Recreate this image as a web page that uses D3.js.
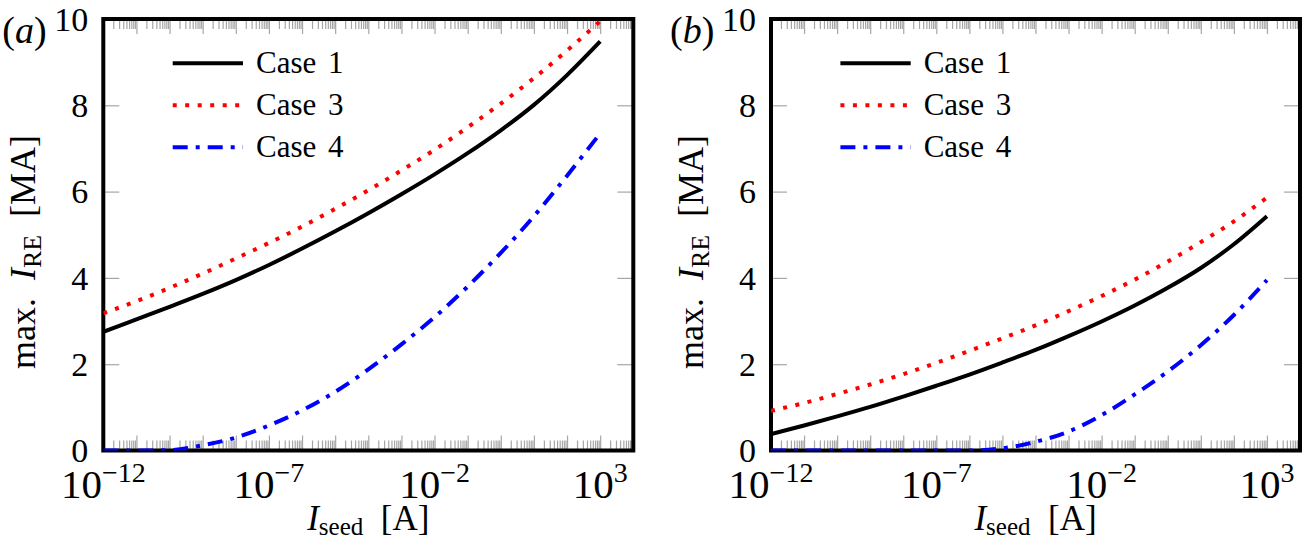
<!DOCTYPE html>
<html>
<head>
<meta charset="utf-8">
<script src="https://cdn.jsdelivr.net/npm/d3@7"></script>
<style>
  body { margin: 0; background: #fff; }
  svg text { font-family: "Liberation Serif", "Times New Roman", serif !important; fill: #000; }
</style>
</head>
<body>
<svg id="chart" width="1304" height="539" font-family="Liberation Serif, serif"></svg>
<script>
// data (seed current in A, max runaway current in MA)
var seed = [1e-12, 1e-11, 1e-10, 1e-9, 1e-8, 1e-7, 1e-6, 1e-5, 1e-4, 1e-3, 1e-2, 1e-1, 1e0, 1e1, 1e2, 1e3];

var case1A = [2.75, 3.04, 3.33, 3.63, 3.95, 4.30, 4.68, 5.08, 5.50, 5.94, 6.40, 6.89, 7.42, 8.01, 8.70, 9.48];
var case3A = [3.18, 3.46, 3.77, 4.10, 4.45, 4.81, 5.19, 5.60, 6.03, 6.49, 6.97, 7.49, 8.04, 8.63, 9.27, 9.95];
var case4A = [0.00, 0.00, 0.01, 0.12, 0.30, 0.58, 0.93, 1.36, 1.88, 2.46, 3.09, 3.80, 4.58, 5.43, 6.37, 7.35];

var case1B = [0.38, 0.58, 0.79, 1.01, 1.25, 1.50, 1.76, 2.04, 2.33, 2.65, 2.99, 3.36, 3.77, 4.23, 4.78, 5.43];
var case3B = [0.92, 1.10, 1.31, 1.53, 1.77, 2.03, 2.31, 2.60, 2.90, 3.23, 3.58, 3.96, 4.38, 4.83, 5.31, 5.86];
var case4B = [0.00, 0.00, 0.00, 0.00, 0.00, 0.00, 0.00, 0.05, 0.20, 0.44, 0.82, 1.30, 1.83, 2.44, 3.14, 3.95];

var caseNames = ["Case 1", "Case 3", "Case 4"];
var yTicks = [0, 2, 4, 6, 8, 10];
var xLabelValues = [1e-12, 1e-7, 1e-2, 1e3];
var xLabelExps = ["\u221212", "\u22127", "\u22122", "3"];
var panelLabels = ["a", "b"];

var svg = d3.select("#chart");
var top_ = 19, bottom = 450.5;
var y = d3.scaleLinear().domain([0, 10]).range([bottom, top_]);

var styles = [
  {color: "#000000", dash: null},
  {color: "#ff0000", dash: "4 8.5"},
  {color: "#0000ff", dash: "15 8 4 8"}
];

// log minor / major tick positions
var minorTicks = [], majorTicks = [];
for (var k = -12; k <= 3; k++) {
  if (k > -12) majorTicks.push(Math.pow(10, k));
  for (var m = 2; m <= 9; m++) minorTicks.push(m * Math.pow(10, k));
}

var panels = [
  {x0: 103.3, x1: 633.3, data: [case1A, case3A, case4A]},
  {x0: 771, x1: 1300, data: [case1B, case3B, case4B]}
];

panels.forEach(function(p, i) {
  var x = d3.scaleLog().domain([1e-12, 1e4]).range([p.x0, p.x1]);
  var g = svg.append("g");

  function tickAxis(axis, ty) {
    var a = g.append("g").attr("transform", "translate(0," + ty + ")").call(axis);
    a.select(".domain").remove();
    a.selectAll("line").attr("stroke", "#a6a6a6").attr("stroke-width", 1.2);
    return a;
  }

  // x ticks, pointing inward top and bottom
  tickAxis(d3.axisBottom(x).tickValues(minorTicks).tickSize(-10).tickFormat(""), bottom);
  tickAxis(d3.axisBottom(x).tickValues(majorTicks).tickSize(-15).tickFormat(""), bottom);
  tickAxis(d3.axisTop(x).tickValues(minorTicks).tickSize(-10).tickFormat(""), top_);
  tickAxis(d3.axisTop(x).tickValues(majorTicks).tickSize(-15).tickFormat(""), top_);

  // y ticks, left with labels and right
  var yl = g.append("g").attr("transform", "translate(" + p.x0 + ",0)")
    .call(d3.axisLeft(y).tickValues(yTicks).tickSize(-16).tickPadding(15).tickFormat(d3.format("d")));
  yl.select(".domain").remove();
  yl.attr("font-family", null).attr("font-size", null);
  yl.selectAll("line").attr("stroke", "#a6a6a6").attr("stroke-width", 1.2);
  yl.selectAll("text").attr("font-size", 34).attr("fill", "#000").attr("dy", "0.33em");
  var yr = g.append("g").attr("transform", "translate(" + p.x1 + ",0)")
    .call(d3.axisRight(y).tickValues(yTicks).tickSize(-16).tickFormat(""));
  yr.select(".domain").remove();
  yr.selectAll("line").attr("stroke", "#a6a6a6").attr("stroke-width", 1.2);

  // x tick labels 10^n
  xLabelValues.forEach(function(v, j) {
    var t = g.append("text")
      .attr("x", x(v)).attr("y", 498)
      .attr("text-anchor", "middle")
      .attr("font-size", 41);
    t.append("tspan").text("10");
    t.append("tspan").attr("font-size", 28).attr("dy", -16).text(xLabelExps[j]);
  });

  // frame
  g.append("rect")
    .attr("x", p.x0).attr("y", top_)
    .attr("width", p.x1 - p.x0).attr("height", bottom - top_)
    .attr("fill", "none").attr("stroke", "#000").attr("stroke-width", 4);

  // lines clipped to the plot area
  svg.append("clipPath").attr("id", "clip" + i)
    .append("rect").attr("x", p.x0).attr("y", top_)
    .attr("width", p.x1 - p.x0).attr("height", bottom - top_);

  var line = d3.line()
    .x(function(d) { return x(d[0]); })
    .y(function(d) { return y(d[1]); })
    .curve(d3.curveMonotoneX);

  var lines = g.append("g").attr("clip-path", "url(#clip" + i + ")");
  p.data.forEach(function(vals, s) {
    lines.append("path")
      .datum(seed.map(function(sv, n) { return [sv, vals[n]]; }))
      .attr("d", line)
      .attr("fill", "none")
      .attr("stroke", styles[s].color)
      .attr("stroke-width", 4)
      .attr("stroke-dasharray", styles[s].dash);
  });

  // legend
  caseNames.forEach(function(name, s) {
    var ly = 63.3 + s * 42;
    g.append("line")
      .attr("x1", p.x0 + 69.4).attr("x2", p.x0 + 139.7)
      .attr("y1", ly).attr("y2", ly)
      .attr("stroke", styles[s].color).attr("stroke-width", 4)
      .attr("stroke-dasharray", styles[s].dash);
    g.append("text")
      .attr("x", p.x0 + 152.7).attr("y", ly + 10)
      .attr("font-size", 31)
      .attr("word-spacing", 4)
      .text(name);
  });

  // axis titles
  var cx = (p.x0 + p.x1) / 2;
  var xt = g.append("text").attr("x", cx).attr("y", 530)
    .attr("text-anchor", "middle").attr("font-size", 35);
  xt.append("tspan").attr("font-style", "italic").text("I");
  xt.append("tspan").attr("font-size", 25).attr("dy", 5).text("seed");
  xt.append("tspan").attr("dy", -5).text("\u2002[A]");

  var yt = g.append("text")
    .attr("transform", "translate(" + (p.x0 - 68) + ",252) rotate(-90)")
    .attr("text-anchor", "middle").attr("font-size", 36);
  yt.append("tspan").text("max.\u2002");
  yt.append("tspan").attr("font-style", "italic").text("I");
  yt.append("tspan").attr("font-size", 26).attr("dy", 6).text("RE");
  yt.append("tspan").attr("dy", -6).text("\u2002[MA]");

  // panel label
  var pl = g.append("text").attr("x", p.x0 - 101).attr("y", 43).attr("font-size", 38);
  pl.append("tspan").text("(");
  pl.append("tspan").attr("font-style", "italic").text(panelLabels[i]);
  pl.append("tspan").text(")");
});
</script>
</body>
</html>
